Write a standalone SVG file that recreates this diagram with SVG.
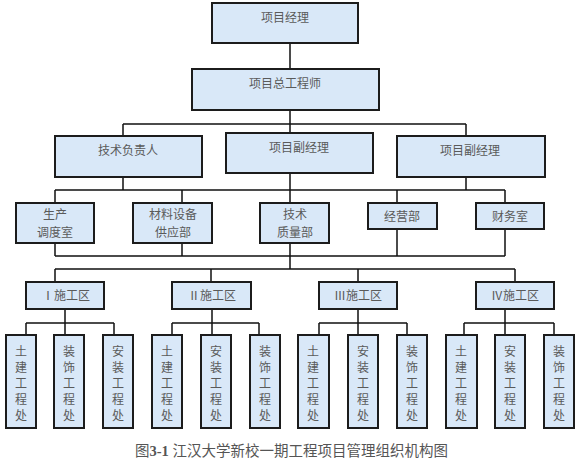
<svg xmlns="http://www.w3.org/2000/svg" width="576" height="469" viewBox="0 0 576 469">
<style>
.box{fill:#d9e8f8;stroke:#1c1c1c;stroke-width:2}
.t{font-family:"Noto Sans CJK SC","Liberation Serif",serif;font-size:12px;fill:#5a5a5a;text-anchor:middle}
.c{fill:none;stroke:#111;stroke-width:1.5}
.cap{font-family:"Liberation Serif","Noto Sans CJK SC",serif;font-size:14.5px;fill:#555}
</style>
<rect width="576" height="469" fill="#fff"/>
<g id="connectors" class="c">
<path d="M290,43V69M290,110V133M123,124H466M123,124V136M466,124V136"/>
<path d="M123,177V190M466,177V190M290,173V203M55,190H505M55,190V203M182,190V203M397,190V203M505,190V203"/>
<path d="M55,243V256M182,243V256M290,243V269M397,229V256M505,229V256M55,256H505"/>
<path d="M55,269H515M55,269V282M211,269V282M358,269V282M515,269V282"/>
<path d="M65,309V335M26,323H114M26,323V335M114,323V335"/>
<path d="M212,309V335M172,323H259M172,323V335M259,323V335"/>
<path d="M358,309V335M319,323H407M319,323V335M407,323V335"/>
<path d="M505,309V335M464,323H554M464,323V335M554,323V335"/>
</g>
<g id="n1"><rect class="box" x="212" y="3" width="146" height="40"/><text class="t" x="285" y="22">项目经理</text></g>
<g id="n2"><rect class="box" x="192" y="69" width="187" height="41"/><text class="t" x="285" y="88">项目总工程师</text></g>
<g id="n3"><rect class="box" x="55" y="136" width="147" height="41"/><text class="t" x="128" y="155">技术负责人</text></g>
<g id="n4"><rect class="box" x="226" y="133" width="147" height="40"/><text class="t" x="299" y="152">项目副经理</text></g>
<g id="n5"><rect class="box" x="397" y="136" width="148" height="41"/><text class="t" x="470" y="155">项目副经理</text></g>
<g id="n6"><rect class="box" x="16" y="203" width="78" height="40"/><text class="t" x="55" y="219">生产</text><text class="t" x="55" y="237">调度室</text></g>
<g id="n7"><rect class="box" x="133" y="203" width="79" height="40"/><text class="t" x="173" y="219">材料设备</text><text class="t" x="173" y="237">供应部</text></g>
<g id="n8"><rect class="box" x="260" y="203" width="69" height="40"/><text class="t" x="295" y="219">技术</text><text class="t" x="295" y="237">质量部</text></g>
<g id="n9"><rect class="box" x="368" y="203" width="69" height="26"/><text class="t" x="402" y="221">经营部</text></g>
<g id="n10"><rect class="box" x="476" y="203" width="68" height="26"/><text class="t" x="510" y="221">财务室</text></g>
<g id="z1"><rect class="box" x="26" y="282" width="78" height="27"/><text class="t" x="66" y="300">Ⅰ施工区</text></g>
<g id="z2"><rect class="box" x="172" y="282" width="79" height="27"/><text class="t" x="212" y="300">Ⅱ施工区</text></g>
<g id="z3"><rect class="box" x="319" y="282" width="78" height="27"/><text class="t" x="358" y="300">Ⅲ施工区</text></g>
<g id="z4"><rect class="box" x="476" y="282" width="78" height="27"/><text class="t" x="515" y="300">Ⅳ施工区</text></g>
<g id="l1"><rect class="box" x="6" y="335" width="30" height="93"/><text class="t" x="21" y="356">土</text><text class="t" x="21" y="372">建</text><text class="t" x="21" y="388">工</text><text class="t" x="21" y="404">程</text><text class="t" x="21" y="420">处</text></g>
<g id="l2"><rect class="box" x="54" y="335" width="30" height="93"/><text class="t" x="69" y="356">装</text><text class="t" x="69" y="372">饰</text><text class="t" x="69" y="388">工</text><text class="t" x="69" y="404">程</text><text class="t" x="69" y="420">处</text></g>
<g id="l3"><rect class="box" x="103" y="335" width="30" height="93"/><text class="t" x="118" y="356">安</text><text class="t" x="118" y="372">装</text><text class="t" x="118" y="388">工</text><text class="t" x="118" y="404">程</text><text class="t" x="118" y="420">处</text></g>
<g id="l4"><rect class="box" x="152" y="335" width="30" height="93"/><text class="t" x="167" y="356">土</text><text class="t" x="167" y="372">建</text><text class="t" x="167" y="388">工</text><text class="t" x="167" y="404">程</text><text class="t" x="167" y="420">处</text></g>
<g id="l5"><rect class="box" x="201" y="335" width="30" height="93"/><text class="t" x="216" y="356">安</text><text class="t" x="216" y="372">装</text><text class="t" x="216" y="388">工</text><text class="t" x="216" y="404">程</text><text class="t" x="216" y="420">处</text></g>
<g id="l6"><rect class="box" x="250" y="335" width="30" height="93"/><text class="t" x="265" y="356">装</text><text class="t" x="265" y="372">饰</text><text class="t" x="265" y="388">工</text><text class="t" x="265" y="404">程</text><text class="t" x="265" y="420">处</text></g>
<g id="l7"><rect class="box" x="298" y="335" width="31" height="93"/><text class="t" x="313" y="356">土</text><text class="t" x="313" y="372">建</text><text class="t" x="313" y="388">工</text><text class="t" x="313" y="404">程</text><text class="t" x="313" y="420">处</text></g>
<g id="l8"><rect class="box" x="348" y="335" width="30" height="93"/><text class="t" x="363" y="356">安</text><text class="t" x="363" y="372">装</text><text class="t" x="363" y="388">工</text><text class="t" x="363" y="404">程</text><text class="t" x="363" y="420">处</text></g>
<g id="l9"><rect class="box" x="397" y="335" width="30" height="93"/><text class="t" x="412" y="356">装</text><text class="t" x="412" y="372">饰</text><text class="t" x="412" y="388">工</text><text class="t" x="412" y="404">程</text><text class="t" x="412" y="420">处</text></g>
<g id="l10"><rect class="box" x="446" y="335" width="31" height="93"/><text class="t" x="461" y="356">土</text><text class="t" x="461" y="372">建</text><text class="t" x="461" y="388">工</text><text class="t" x="461" y="404">程</text><text class="t" x="461" y="420">处</text></g>
<g id="l11"><rect class="box" x="495" y="335" width="30" height="93"/><text class="t" x="510" y="356">安</text><text class="t" x="510" y="372">装</text><text class="t" x="510" y="388">工</text><text class="t" x="510" y="404">程</text><text class="t" x="510" y="420">处</text></g>
<g id="l12"><rect class="box" x="544" y="335" width="30" height="93"/><text class="t" x="559" y="356">装</text><text class="t" x="559" y="372">饰</text><text class="t" x="559" y="388">工</text><text class="t" x="559" y="404">程</text><text class="t" x="559" y="420">处</text></g>
<text class="cap" x="135" y="456">图<tspan font-weight="bold" font-family="Liberation Serif">3-1</tspan> 江汉大学新校一期工程项目管理组织机构图</text>
</svg>
